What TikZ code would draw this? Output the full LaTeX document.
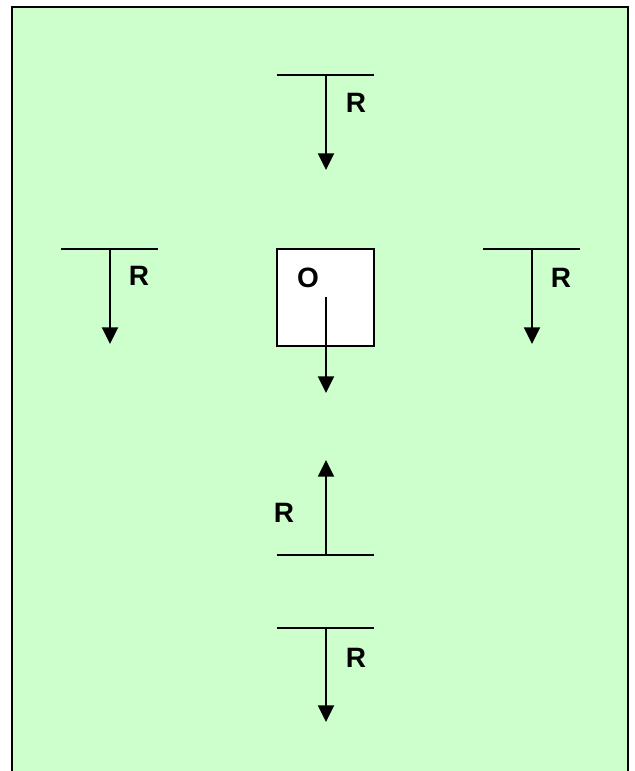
\documentclass[tikz,border=0pt]{standalone}
\usepackage{fontspec}
\setmainfont{Liberation Sans}
\usepackage{xcolor}
\usetikzlibrary{arrows.meta}
\definecolor{panelgreen}{HTML}{CCFFCC}

\begin{document}
\begin{tikzpicture}[
    x=0.75pt, y=-0.75pt,
    bar/.style={draw, line width=1.5pt},
    force/.style={draw, line width=1.6pt, -{Triangle[length=12.5pt, width=12pt]}},
    lbl/.style={inner sep=0pt, font=\fontsize{21pt}{21pt}\selectfont\bfseries},
    origin/.style={draw, fill=white, line width=1.5pt, minimum size=72.75pt, inner sep=0pt},
  ]
  \useasboundingbox (0,0) rectangle (635,771);
  \draw[fill=panelgreen, line width=2pt] (12,7) rectangle (628,795);

  % the body O
  \node[origin] (body) at (325.5,297.5) {};
  \node[lbl] (o) at (308,278) {O};
  \coordinate (oStart) at (326,297);
  \coordinate (oTip) at (326,393);
  \draw[force] (oStart) -- (oTip);

  % top
  \coordinate (topL) at (277,75);
  \coordinate (topR) at (374,75);
  \coordinate (topM) at (326,75);
  \coordinate (topTip) at (326,170);
  \draw[bar] (topL) -- (topR);
  \draw[force] (topM) -- (topTip);
  \node[lbl] (rTop) at (356,103) {R};

  % left
  \coordinate (leftL) at (61,249);
  \coordinate (leftR) at (158,249);
  \coordinate (leftM) at (110,249);
  \coordinate (leftTip) at (110,344);
  \draw[bar] (leftL) -- (leftR);
  \draw[force] (leftM) -- (leftTip);
  \node[lbl] (rLeft) at (139,276) {R};

  % right
  \coordinate (rightL) at (483,249);
  \coordinate (rightR) at (580,249);
  \coordinate (rightM) at (532,249);
  \coordinate (rightTip) at (532,344);
  \draw[bar] (rightL) -- (rightR);
  \draw[force] (rightM) -- (rightTip);
  \node[lbl] (rRight) at (561,278) {R};

  % below, pointing up
  \coordinate (upL) at (277,555);
  \coordinate (upR) at (374,555);
  \coordinate (upM) at (326,555);
  \coordinate (upTip) at (326,460);
  \draw[bar] (upL) -- (upR);
  \draw[force] (upM) -- (upTip);
  \node[lbl] (rUp) at (284,513) {R};

  % bottom
  \coordinate (botL) at (277,628);
  \coordinate (botR) at (374,628);
  \coordinate (botM) at (326,628);
  \coordinate (botTip) at (326,722);
  \draw[bar] (botL) -- (botR);
  \draw[force] (botM) -- (botTip);
  \node[lbl] (rBot) at (356,658) {R};
\end{tikzpicture}
\end{document}
